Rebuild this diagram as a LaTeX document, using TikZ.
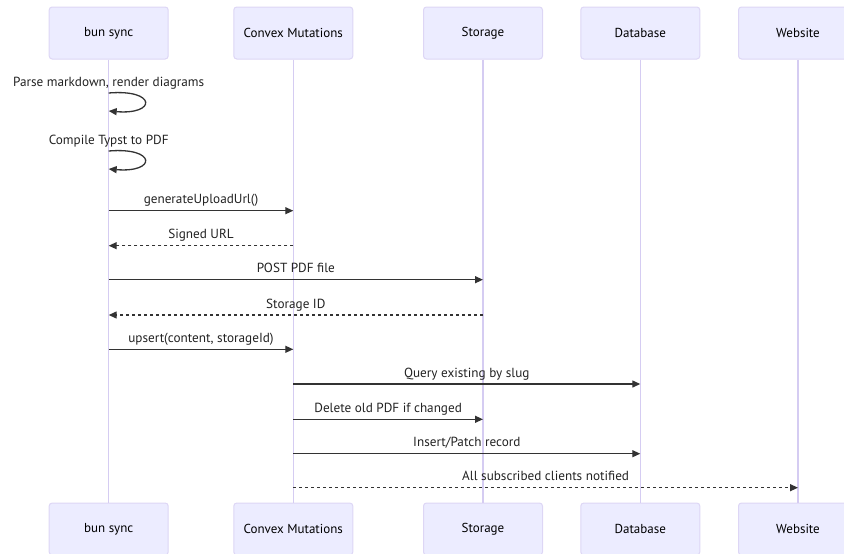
\documentclass[tikz,border=0pt]{standalone}
\usepackage{fontspec}
\setmainfont{PT Sans}
\usetikzlibrary{arrows.meta,calc}
\definecolor{actfill}{HTML}{ECECFF}
\definecolor{actborder}{HTML}{DDD6F5}
\definecolor{lifeline}{HTML}{D5CCF2}
\definecolor{ink}{HTML}{333333}
\definecolor{txt}{HTML}{222222}
\tikzset{
  actor/.style={draw=actborder,fill=actfill,rounded corners=3pt,minimum width=119pt,minimum height=52pt,inner sep=0pt,font=\fontsize{13}{15}\selectfont,text=black,line width=1pt},
  life/.style={draw=lifeline,line width=1.4pt},
  msg/.style={draw=ink,line width=1.3pt,-{Triangle[length=8pt,width=7pt]}},
  reply/.style={msg,dash pattern=on 3pt off 3pt},
  lbl/.style={font=\fontsize{13.2}{15}\selectfont,text=txt,inner sep=0pt,anchor=base},
}
\begin{document}
\begin{tikzpicture}[x=1pt,y=-1pt]
\useasboundingbox (0,0) rectangle (844,554);
% actors top
\node[actor] (bunT) at (108.7,33) {bun sync};
\node[actor] (convT) at (293.3,33) {Convex Mutations};
\node[actor] (stoT) at (483,33) {Storage};
\node[actor] (dbT) at (640.3,33) {Database};
\node[actor] (webT) at (798,33) {Website};
% actors bottom
\node[actor] (bunB) at (108.7,529) {bun sync};
\node[actor] (convB) at (293.3,529) {Convex Mutations};
\node[actor] (stoB) at (483,529) {Storage};
\node[actor] (dbB) at (640.3,529) {Database};
\node[actor] (webB) at (798,529) {Website};
% lifelines
\foreach \a in {bun,conv,sto,db,web}{
  \draw[life] (\a T.south) -- (\a B.north);
}
% row coordinates
\coordinate (r1) at (0,93);
\coordinate (r1b) at (0,111);
\coordinate (r2) at (0,151);
\coordinate (r2b) at (0,169);
\coordinate (r3) at (0,210.7);
\coordinate (r4) at (0,245.7);
\coordinate (r5) at (0,279.7);
\coordinate (r6) at (0,315);
\coordinate (r7) at (0,349.3);
\coordinate (r8) at (0,384);
\coordinate (r9) at (0,419.3);
\coordinate (r10) at (0,453.7);
\coordinate (r11) at (0,487.7);
% self loops
\draw[msg] (bunT |- r1) .. controls ($(bunT |- r1)+(48,-4)$) and ($(bunT |- r1b)+(48,4)$) .. (bunT |- r1b);
\node[lbl] at ($(bunT |- r1)+(0,-7)$) {Parse markdown, render diagrams};
\draw[msg] (bunT |- r2) .. controls ($(bunT |- r2)+(48,-4)$) and ($(bunT |- r2b)+(48,4)$) .. (bunT |- r2b);
\node[lbl] at ($(bunT |- r2)+(0,-7)$) {Compile Typst to PDF};
% messages
\draw[msg] (bunT |- r3) -- node[lbl,above=7pt,anchor=base] {generateUploadUrl()} (convT |- r3);
\draw[reply] (convT |- r4) -- node[lbl,above=7pt,anchor=base] {Signed URL} (bunT |- r4);
\draw[msg] (bunT |- r5) -- node[lbl,above=7pt,anchor=base] {POST PDF file} (stoT |- r5);
\draw[reply] (stoT |- r6) -- node[lbl,above=7pt,anchor=base] {Storage ID} (bunT |- r6);
\draw[msg] (bunT |- r7) -- node[lbl,above=7pt,anchor=base] {upsert(content, storageId)} (convT |- r7);
\draw[msg] (convT |- r8) -- node[lbl,above=7pt,anchor=base] {Query existing by slug} (dbT |- r8);
\draw[msg] (convT |- r9) -- node[lbl,above=7pt,anchor=base] {Delete old PDF if changed} (stoT |- r9);
\draw[msg] (convT |- r10) -- node[lbl,above=7pt,anchor=base] {Insert/Patch record} (dbT |- r10);
\draw[reply] (convT |- r11) -- node[lbl,above=7pt,anchor=base] {All subscribed clients notified} (webT |- r11);
\end{tikzpicture}
\end{document}
